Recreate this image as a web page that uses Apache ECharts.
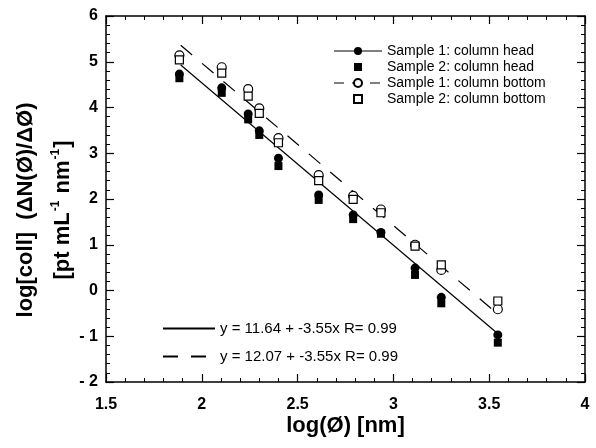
<!DOCTYPE html>
<html>
<head>
<meta charset="utf-8">
<script src="https://cdn.jsdelivr.net/npm/echarts@6/dist/echarts.min.js"></script>
<style>
  html, body { margin: 0; padding: 0; background: #fff; }
  #chart { width: 596px; height: 448px; }
</style>
</head>
<body>
<div id="chart"></div>
<script>
// log(Ø) positions of the size classes
const logD = [1.883, 2.104, 2.242, 2.30, 2.40, 2.61, 2.79, 2.935, 3.113, 3.25, 3.545];
// log concentration for each sample
const s1Head = [4.73, 4.43, 3.86, 3.49, 2.89, 2.09, 1.65, 1.27, 0.49, -0.15, -0.97];
const s2Head = [4.64, 4.32, 3.74, 3.40, 2.72, 1.98, 1.56, 1.24, 0.34, -0.28, -1.14];
const s1Bottom = [5.14, 4.88, 4.40, 3.98, 3.33, 2.52, 2.07, 1.77, 1.00, 0.45, -0.41];
const s2Bottom = [5.04, 4.75, 4.25, 3.87, 3.23, 2.40, 1.99, 1.70, 0.97, 0.56, -0.23];

const seriesNames = [
  'Sample 1: column head',
  'Sample 2: column head',
  'Sample 1: column bottom',
  'Sample 2: column bottom'
];

// regression lines (intercept, slope) and the x range they cover
const fitNames = ['y = 11.64 + -3.55x R= 0.99', 'y = 12.07 + -3.55x R= 0.99'];
const fitIntercept = [11.64, 12.07];
const fitSlope = [-3.55, -3.55];
const fitRange = [1.89, 3.55];

const xTicks = [1.5, 2, 2.5, 3, 3.5, 4];
const yTicks = [-2, -1, 0, 1, 2, 3, 4, 5, 6];

const FONT = 'Liberation Sans, Arial, Helvetica, sans-serif';

function pts(ys) {
  return logD.map((x, i) => [x, ys[i]]);
}
function fitLine(k) {
  return fitRange.map(x => [x, fitIntercept[k] + fitSlope[k] * x]);
}

const chartInstance = echarts.init(document.getElementById('chart'));

const axisCommon = {
  axisLine: { show: true, onZero: false, lineStyle: { color: '#000', width: 1.5 } },
  axisTick: { show: true, inside: true, length: 8, lineStyle: { color: '#000', width: 1.2 } },
  minorTick: { show: true, splitNumber: 5, length: 4, lineStyle: { color: '#000', width: 1 } },
  splitLine: { show: false }
};

const fmtY = v => (v < 0 ? '- ' + Math.abs(v) : String(v));

// points are drawn as line series with the connecting line hidden,
// so the legend shows the marker (and the fit line style where there is one)
function sampleSeries(name, ys, symbol, filled) {
  return {
    name: name,
    type: 'line',
    data: pts(ys),
    symbol: symbol,
    symbolSize: symbol === 'rect' ? 8 : 9,
    showAllSymbol: true,
    itemStyle: filled
      ? { color: '#000' }
      : { color: '#fff', borderColor: '#000', borderWidth: 1.2 },
    lineStyle: { opacity: 0 },
    z: symbol === 'rect' && !filled ? 4 : 3
  };
}

const option = {
  animation: false,
  backgroundColor: '#fff',
  grid: { left: 106, right: 11, top: 16, bottom: 66 },
  legend: [
    {
      left: 328,
      top: 39,
      orient: 'vertical',
      itemWidth: 48,
      itemHeight: 10,
      itemGap: 2,
      textStyle: { fontFamily: FONT, fontSize: 14, color: '#000', lineHeight: 14 },
      data: [
        { name: seriesNames[0], lineStyle: { opacity: 1, color: '#000', width: 1.2 } },
        { name: seriesNames[1] },
        { name: seriesNames[2], lineStyle: { opacity: 1, color: '#000', width: 1.2, type: [10, 8] } },
        { name: seriesNames[3] }
      ]
    },
    {
      left: 157,
      top: 316,
      orient: 'vertical',
      itemWidth: 52,
      itemHeight: 10,
      itemGap: 13,
      textStyle: { fontFamily: FONT, fontSize: 15, color: '#000', lineHeight: 15 },
      data: fitNames.map(n => ({
        name: n,
        itemStyle: { color: 'rgba(0,0,0,0)', borderColor: 'rgba(0,0,0,0)' }
      }))
    }
  ],
  xAxis: [
    Object.assign({}, axisCommon, {
      type: 'value',
      min: xTicks[0],
      max: xTicks[xTicks.length - 1],
      interval: 0.5,
      position: 'bottom',
      name: 'log(Ø) [nm]',
      nameLocation: 'middle',
      nameGap: 33,
      nameMoveOverlap: false,
      nameTextStyle: { fontFamily: FONT, fontSize: 22, fontWeight: 'bold', color: '#000' },
      axisLabel: { fontFamily: FONT, fontSize: 16, fontWeight: 'bold', color: '#000', margin: 15 }
    }),
    Object.assign({}, axisCommon, {
      type: 'value',
      min: xTicks[0],
      max: xTicks[xTicks.length - 1],
      interval: 0.5,
      position: 'top',
      axisLabel: { show: false }
    })
  ],
  yAxis: [
    Object.assign({}, axisCommon, {
      type: 'value',
      min: yTicks[0],
      max: yTicks[yTicks.length - 1],
      interval: 1,
      position: 'left',
      name: '{a|log[coll]  (ΔN(Ø)/ΔØ)}\n{a|[pt mL}{s|-1}{a| nm}{s|-1}{a|]}',
      nameLocation: 'middle',
      nameRotate: 90,
      nameGap: 25,
      nameMoveOverlap: false,
      nameTextStyle: {
        fontFamily: FONT,
        color: '#000',
        padding: [0, 22, 0, 0],
        rich: {
          a: { fontFamily: FONT, fontSize: 22, fontWeight: 'bold', color: '#000', lineHeight: 37 },
          s: { fontFamily: FONT, fontSize: 12, fontWeight: 'bold', color: '#000', lineHeight: 12, padding: [0, 1, 13, 1] }
        }
      },
      axisLabel: { fontFamily: FONT, fontSize: 16, fontWeight: 'bold', color: '#000', margin: 8, formatter: fmtY }
    }),
    Object.assign({}, axisCommon, {
      type: 'value',
      min: yTicks[0],
      max: yTicks[yTicks.length - 1],
      interval: 1,
      position: 'right',
      axisLabel: { show: false }
    })
  ],
  series: [
    {
      name: fitNames[0],
      type: 'line',
      data: fitLine(0),
      symbol: 'none',
      silent: true,
      lineStyle: { color: '#000', width: 1.2, type: 'solid' },
      itemStyle: { color: '#000' },
      z: 1
    },
    {
      name: fitNames[1],
      type: 'line',
      data: fitLine(1),
      symbol: 'none',
      silent: true,
      lineStyle: { color: '#000', width: 1.2, type: [15, 13] },
      itemStyle: { color: '#000' },
      z: 1
    },
    sampleSeries(seriesNames[0], s1Head, 'circle', true),
    sampleSeries(seriesNames[1], s2Head, 'rect', true),
    sampleSeries(seriesNames[2], s1Bottom, 'circle', false),
    sampleSeries(seriesNames[3], s2Bottom, 'rect', false)
  ]
};

chartInstance.setOption(option);
</script>
</body>
</html>
